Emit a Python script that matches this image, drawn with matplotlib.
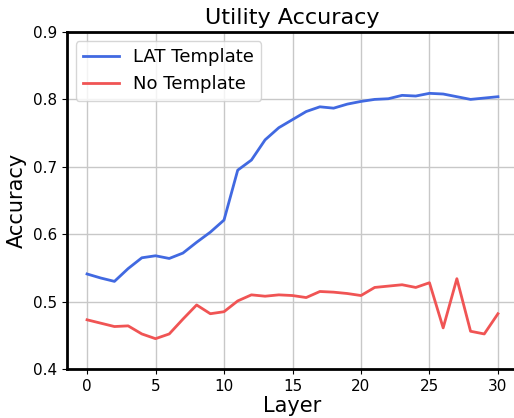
import numpy as np
from matplotlib import pyplot as plt

plt.rcParams['savefig.bbox'] = 'standard'

layers = list(range(31))
lat_template = [0.541, 0.535, 0.530, 0.549, 0.565, 0.568, 0.564, 0.572, 0.588, 0.603,
                0.621, 0.695, 0.710, 0.740, 0.758, 0.770, 0.782, 0.789, 0.787, 0.793,
                0.797, 0.800, 0.801, 0.806, 0.805, 0.809, 0.808, 0.804, 0.800, 0.802,
                0.804]
no_template = [0.473, 0.468, 0.463, 0.464, 0.452, 0.445, 0.452, 0.474, 0.495, 0.482,
               0.485, 0.501, 0.510, 0.508, 0.510, 0.509, 0.506, 0.515, 0.514, 0.512,
               0.509, 0.521, 0.523, 0.525, 0.521, 0.528, 0.461, 0.534, 0.456, 0.452,
               0.482]

fig = plt.figure(figsize=(5.14, 4.18), dpi=100)
# axes run past the right edge of the figure, as in the cropped original
ax = fig.add_axes([66.5 / 514, 49 / 418, 452 / 514, 337 / 418])

ax.plot(layers, lat_template, color='#4169E1', linewidth=2, label='LAT Template')
ax.plot(layers, no_template, color='#F05454', linewidth=2, label='No Template')

ax.set_xlim(-1.5, 31.5)
ax.set_ylim(0.4, 0.9)
ax.set_xticks([0, 5, 10, 15, 20, 25, 30])
ax.set_yticks([0.4, 0.5, 0.6, 0.7, 0.8, 0.9])
ax.tick_params(labelsize=11)
ax.grid(True, color='#c8c8c8', linewidth=1)
for s in ax.spines.values():
    s.set_linewidth(2)
ax.spines['right'].set_visible(False)

ax.set_title('Utility Accuracy', fontsize=16)
ax.set_xlabel('Layer', fontsize=15, labelpad=2)
ax.set_ylabel('Accuracy', fontsize=15)
ax.legend(fontsize=13, loc='upper left')

plt.savefig('out.png', dpi=100)
